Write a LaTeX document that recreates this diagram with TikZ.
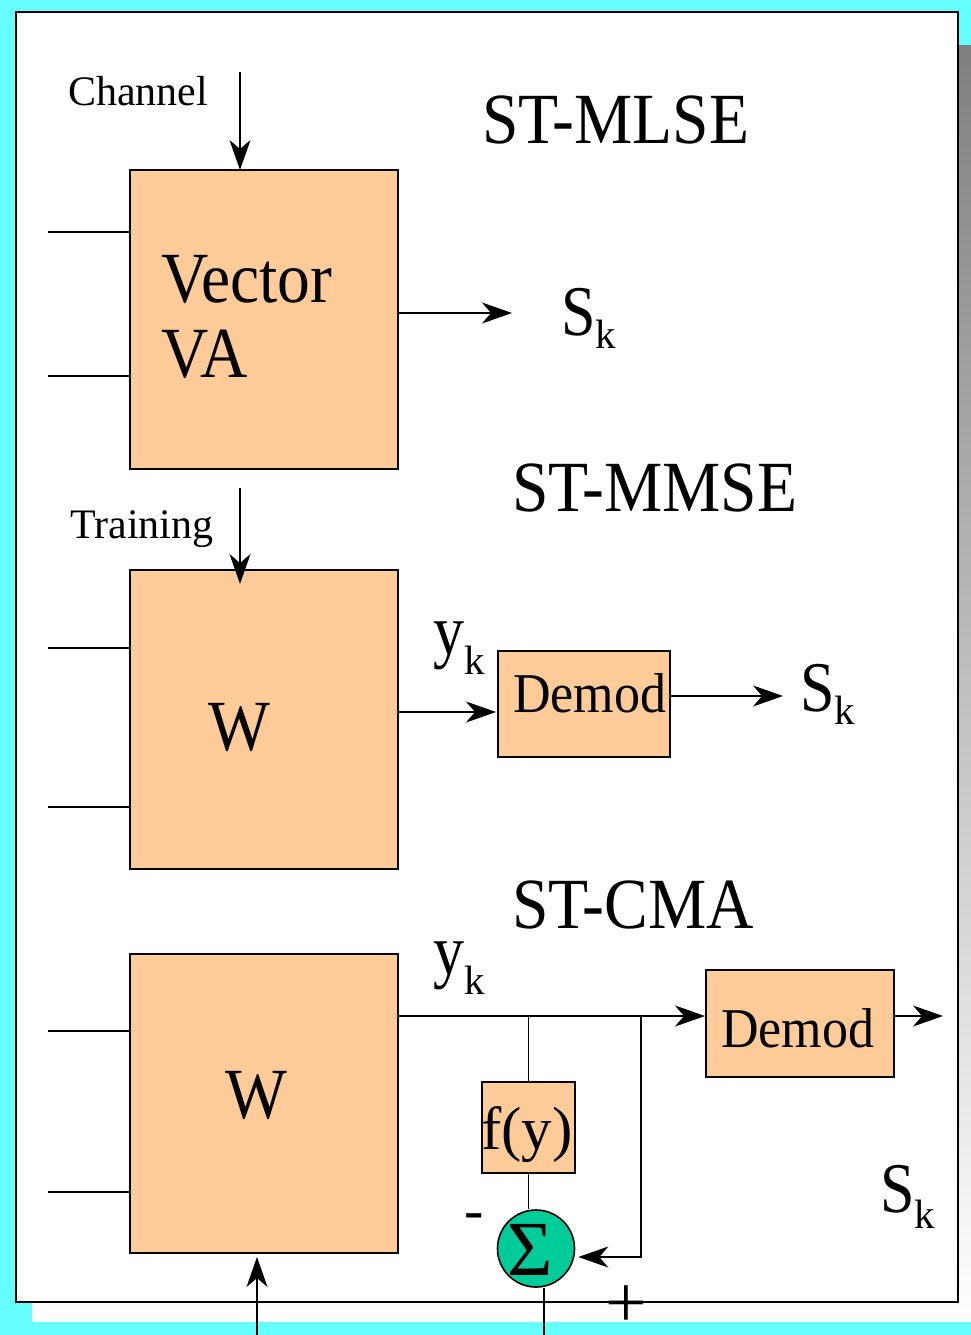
\documentclass[tikz,border=0pt]{standalone}
\usepackage{fontspec}
\setmainfont{Liberation Serif}
\usetikzlibrary{arrows.meta}
\definecolor{bgcyan}{HTML}{66FFFF}
\definecolor{shade}{HTML}{999999}
\definecolor{blockfill}{HTML}{FFCC99}
\definecolor{sumfill}{HTML}{00CC99}
% slightly taller lettering for the large labels
\newcommand\tallt[2][1.1]{\scalebox{1}[#1]{#2}}
\newcommand\subk[1]{\raisebox{-#1pt}{\fontsize{41}{41}\selectfont k}}

\begin{document}
\begin{tikzpicture}[x=1pt,y=-1pt,
  block/.style={draw=black,line width=1.6pt,fill=blockfill,inner sep=0pt,outer sep=0pt},
  wire/.style={line width=1.6pt},
  arr/.style={wire,-{Stealth[length=30pt,width=21pt,inset=9pt]}},
  lbl/.style={inner sep=0pt,anchor=base west},
  big/.style={lbl,font=\fontsize{65.5}{72}\selectfont},
  sym/.style={lbl,font=\fontsize{62}{70}\selectfont},
  mid/.style={lbl,font=\fontsize{52}{60}\selectfont},
  small/.style={lbl,font=\fontsize{42}{48}\selectfont}]

% page background, shadow and white panel
\useasboundingbox (0,0) rectangle (971,1335);
\fill[bgcyan] (0,0) rectangle (971,1335);
\fill[shade] (32,46) rectangle (975,1321);
\draw[fill=white,line width=1.6pt] (16,12) rectangle (958,1302);

% ---------------- ST-MLSE ----------------
\node[big] (tMLSE) at (482,143) {\tallt{ST-MLSE}};
\node[small] (chan) at (68,106) {Channel};
\node[block,minimum width=268,minimum height=299] (va) at (264,319.5) {};
\node[big] (vecA) at (161,302) {\tallt{Vector}};
\node[big] (vecB) at (161,377) {\tallt{VA}};
\coordinate (chTop) at (240,72);
\draw[arr] (chTop) -- (chTop |- va.north);
\coordinate (inA1) at (48,232);
\coordinate (inA2) at (48,376);
\draw[wire] (inA1) -- (inA1 -| va.west);
\draw[wire] (inA2) -- (inA2 -| va.west);
\coordinate (tipA) at (512,313);
\draw[arr] (va.east |- tipA) -- (tipA);
\node[sym] (skA) at (561,335) {\tallt[1.15]{S}\subk{13}};

% ---------------- ST-MMSE ----------------
\node[big] (tMMSE) at (512,511) {\tallt{ST-MMSE}};
\node[small] (train) at (70,538) {Training};
\node[block,minimum width=268,minimum height=299] (wB) at (264,719.5) {};
\node[big,anchor=base] (wBt) at (239,750) {\tallt{W}};
\coordinate (trTop) at (240,488);
\coordinate (trTip) at (240,584);
\draw[arr] (trTop) -- (trTip);
\coordinate (inB1) at (48,648);
\coordinate (inB2) at (48,807);
\draw[wire] (inB1) -- (inB1 -| wB.west);
\draw[wire] (inB2) -- (inB2 -| wB.west);
\node[block,minimum width=172,minimum height=106] (dmA) at (584,704) {};
\node[mid] (dmAt) at (513,712) {\tallt[1.08]{Demod}};
\coordinate (tipB) at (496,712);
\draw[arr] (wB.east |- tipB) -- (tipB);
\node[sym] (ykA) at (433,654) {\tallt[1.15]{y}\subk{20}};
\coordinate (tipC) at (783,696);
\draw[arr] (dmA.east |- tipC) -- (tipC);
\node[sym] (skB) at (800,711) {\tallt[1.15]{S}\subk{13}};

% ---------------- ST-CMA ----------------
\node[big] (tCMA) at (512,928) {\tallt{ST-CMA}};
\node[block,minimum width=268,minimum height=299] (wC) at (264,1103.5) {};
\node[big,anchor=base] (wCt) at (256,1118) {\tallt{W}};
\coordinate (inC1) at (48,1031);
\coordinate (inC2) at (48,1192);
\draw[wire] (inC1) -- (inC1 -| wC.west);
\draw[wire] (inC2) -- (inC2 -| wC.west);
\coordinate (upBot) at (257,1335);
\coordinate (upTip) at (257,1257);
\draw[arr] (upBot) -- (upTip);
\node[sym] (ykB) at (433,974) {\tallt[1.15]{y}\subk{20}};
\node[block,minimum width=188,minimum height=107] (dmB) at (800,1023.5) {};
\node[mid] (dmBt) at (721,1047) {\tallt[1.08]{Demod}};
\coordinate (tipD) at (705,1016);
\draw[arr] (wC.east |- tipD) -- (tipD);
\coordinate (tipE) at (943,1016);
\draw[arr] (dmB.east |- tipE) -- (tipE);
\node[sym] (skC) at (880,1212) {\tallt[1.15]{S}\subk{16}};

% error path: f(y), summing junction and feedback
\node[block,minimum width=93,minimum height=91] (fy) at (528.5,1127.5) {};
\node[lbl,font=\fontsize{61}{66}\selectfont] (fyt) at (481,1149) {f(y)};
\coordinate (jn1) at (528.5,1016);
\draw[wire] (jn1) -- (fy.north);
\node[circle,draw=black,line width=1.6pt,fill=sumfill,minimum size=77,inner sep=0pt] (sum) at (536,1248.5) {};
\node[inner sep=0pt,font=\fontsize{78}{78}\selectfont] (sigma) at (530,1250) {Σ};
\draw[wire] (fy.south) -- (fy.south |- sum.north);
\coordinate (jn2) at (641,1016);
\coordinate (fbk) at (641,1257);
\draw[arr] (jn2) -- (fbk) -- ([xshift=3pt]fbk -| sum.east);
\coordinate (outS) at (544,1335);
\draw[wire] (outS) -- (outS |- sum.south);
\node[lbl,font=\fontsize{58}{60}\selectfont] (minus) at (464,1229) {-};
\node[inner sep=0pt,anchor=base,font=\fontsize{74}{76}\selectfont] (plus) at (626,1327) {+};
\end{tikzpicture}
\end{document}
